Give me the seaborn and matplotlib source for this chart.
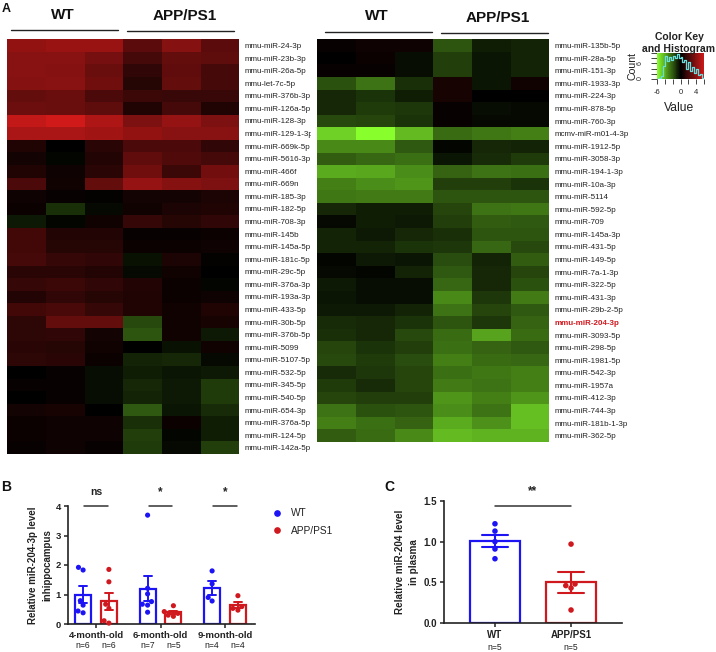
import matplotlib
matplotlib.use('Agg')
import matplotlib.pyplot as plt
from matplotlib.colors import LinearSegmentedColormap
from matplotlib.lines import Line2D
from matplotlib.transforms import Bbox
import numpy as np
import pandas as pd
import seaborn as sns

W, H = 716, 652

left_labels = ['mmu-miR-24-3p', 'mmu-miR-23b-3p', 'mmu-miR-26a-5p', 'mmu-let-7c-5p', 'mmu-miR-376b-3p',
               'mmu-miR-126a-5p', 'mmu-miR-128-3p', 'mmu-miR-129-1-3p', 'mmu-miR-669k-5p', 'mmu-miR-5616-3p',
               'mmu-miR-466f', 'mmu-miR-669n', 'mmu-miR-185-3p', 'mmu-miR-182-5p', 'mmu-miR-708-3p',
               'mmu-miR-145b', 'mmu-miR-145a-5p', 'mmu-miR-181c-5p', 'mmu-miR-29c-5p', 'mmu-miR-376a-3p',
               'mmu-miR-193a-3p', 'mmu-miR-433-5p', 'mmu-miR-30b-5p', 'mmu-miR-376b-5p', 'mmu-miR-5099',
               'mmu-miR-5107-5p', 'mmu-miR-532-5p', 'mmu-miR-345-5p', 'mmu-miR-540-5p', 'mmu-miR-654-3p',
               'mmu-miR-376a-5p', 'mmu-miR-124-5p', 'mmu-miR-142a-5p']
left_values = [
    [4.2, 4.4, 4.4, 2.6, 3.8, 2.6], [3.9, 3.9, 3.4, 2.0, 2.9, 2.7], [3.9, 3.8, 3.0, 1.4, 2.8, 2.0],
    [3.8, 3.9, 3.2, 1.1, 2.9, 2.0], [2.9, 3.0, 2.2, 1.7, 1.6, 1.6], [3.1, 3.0, 2.7, 0.9, 2.0, 0.9],
    [5.6, 6.0, 5.0, 3.6, 4.3, 3.6], [4.9, 4.9, 4.6, 4.2, 3.9, 3.9], [0.9, 0.0, 1.2, 2.2, 2.2, 1.4],
    [0.6, -0.1, 1.0, 2.8, 2.3, 2.0], [0.9, 0.4, 1.2, 3.2, 1.7, 3.3], [2.2, 0.5, 2.9, 4.3, 3.8, 3.6],
    [0.4, 0.2, 0.1, 0.6, 0.6, 0.8], [0.3, -1.1, -0.2, 0.5, 0.8, 0.9], [-0.6, -0.1, 0.5, 1.5, 1.1, 1.4],
    [1.9, 1.0, 1.0, 0.2, 0.2, 0.3], [1.9, 1.1, 1.1, 0.3, 0.3, 0.4], [2.0, 1.5, 1.4, -0.4, 0.8, 0.1],
    [1.2, 1.2, 1.0, -0.2, 0.5, 0.0], [1.5, 1.7, 1.4, 1.0, 0.3, -0.1], [1.0, 1.4, 1.1, 0.9, 0.3, 0.4],
    [1.9, 2.1, 1.5, 0.9, 0.5, 0.9], [1.3, 2.9, 2.9, -1.7, 0.5, 0.7], [1.3, 1.4, 0.6, -2.0, 0.5, -0.6],
    [1.2, 1.1, 0.5, 0.0, -0.4, 0.5], [1.3, 1.2, 0.3, -0.8, -0.9, -0.2], [0.0, 0.2, -0.3, -0.7, -0.5, -0.6],
    [0.2, 0.2, -0.3, -0.9, -0.6, -1.4], [0.0, 0.2, -0.3, -0.8, -0.6, -1.4], [0.6, 0.7, 0.0, -2.1, -0.5, -1.0],
    [0.3, 0.4, 0.4, -1.1, 0.3, -0.7], [0.3, 0.4, 0.4, -1.5, -0.1, -0.7], [0.2, 0.4, 0.2, -1.4, -0.2, -1.5],
]

right_labels = ['mmu-miR-135b-5p', 'mmu-miR-28a-5p', 'mmu-miR-151-3p', 'mmu-miR-1933-3p', 'mmu-miR-224-3p',
                'mmu-miR-878-5p', 'mmu-miR-760-3p', 'mcmv-miR-m01-4-3p', 'mmu-miR-1912-5p', 'mmu-miR-3058-3p',
                'mmu-miR-194-1-3p', 'mmu-miR-10a-3p', 'mmu-miR-5114', 'mmu-miR-592-5p', 'mmu-miR-709',
                'mmu-miR-145a-3p', 'mmu-miR-431-5p', 'mmu-miR-149-5p', 'mmu-miR-7a-1-3p', 'mmu-miR-322-5p',
                'mmu-miR-431-3p', 'mmu-miR-29b-2-5p', 'mmu-miR-204-3p', 'mmu-miR-3093-5p', 'mmu-miR-298-5p',
                'mmu-miR-1981-5p', 'mmu-miR-542-3p', 'mmu-miR-1957a', 'mmu-miR-412-3p', 'mmu-miR-744-3p',
                'mmu-miR-181b-1-3p', 'mmu-miR-362-5p']
right_values = [
    [0.2, 0.4, 0.4, -2.0, -0.7, -0.8], [0.0, 0.3, -0.3, -1.5, -0.5, -0.8], [0.2, 0.2, -0.3, -1.5, -0.5, -0.8],
    [-1.9, -2.7, -1.1, 0.7, -0.5, 0.5], [-0.9, -1.2, -0.7, 0.7, 0.0, 0.0], [-0.9, -1.4, -1.3, 0.2, -0.3, -0.2],
    [-1.7, -1.6, -1.2, 0.2, -0.2, -0.2], [-4.9, -6.0, -4.4, -2.5, -2.8, -3.0], [-3.2, -3.2, -2.1, -0.1, -0.9, -0.8],
    [-2.2, -2.4, -2.6, -0.5, -1.0, -1.4], [-4.0, -3.9, -3.3, -2.3, -2.7, -2.6], [-3.0, -3.3, -3.5, -1.5, -1.5, -1.2],
    [-2.8, -2.9, -2.9, -2.0, -2.0, -2.0], [-0.9, -0.7, -0.7, -1.6, -2.7, -2.8], [-0.2, -0.7, -0.6, -1.5, -2.2, -2.1],
    [-0.8, -0.6, -0.9, -1.1, -2.0, -2.0], [-0.8, -0.8, -1.2, -1.3, -2.4, -1.7], [-0.1, -0.6, -0.5, -1.8, -0.8, -2.2],
    [-0.2, -0.1, -0.8, -2.1, -0.9, -1.6], [-0.6, -0.3, -0.3, -2.4, -0.9, -1.9], [-0.5, -0.3, -0.3, -3.2, -1.3, -2.9],
    [-0.6, -0.6, -0.8, -2.7, -1.6, -2.1], [-1.0, -0.9, -1.2, -2.0, -1.3, -2.3], [-1.1, -0.9, -1.7, -2.5, -3.8, -2.5],
    [-1.6, -1.2, -1.5, -2.6, -2.3, -2.1], [-1.7, -1.4, -1.8, -3.0, -2.5, -2.4], [-1.0, -1.3, -1.6, -2.6, -2.8, -3.0],
    [-1.4, -1.0, -1.6, -2.9, -2.7, -3.0], [-1.6, -1.5, -1.5, -3.5, -3.0, -3.5], [-2.7, -1.9, -2.0, -3.3, -2.7, -4.5],
    [-3.0, -2.6, -2.3, -4.0, -3.4, -4.5], [-2.2, -2.5, -3.2, -4.4, -4.2, -4.2],
]

key_bins = [-6, -5.5, -5, -4.5, -4, -3.5, -3, -2.5, -2, -1.5, -1, -0.5, 0, 0.5, 1, 1.5, 2, 2.5, 3, 3.5, 4, 4.5, 5, 5.5, 6]
key_counts = [0, 3, 12, 50, 90, 70, 85, 75, 90, 80, 95, 80, 85, 65, 75, 40, 65, 30, 45, 25, 40, 15, 20, 5, 0]

groups = ['WT', 'APP/PS1']
ages = ['4-month-old', '6-month-old', '9-month-old']
b_wt_4 = [1.92, 1.83, 0.64, 0.79, 0.38, 0.44]
b_app_4 = [1.85, 1.43, 0.67, 0.53, 0.03, 0.11]
b_wt_6 = [3.69, 1.21, 1.02, 0.76, 0.64, 0.67, 0.40]
b_app_6 = [0.62, 0.42, 0.36, 0.30, 0.26]
b_wt_9 = [1.80, 1.36, 0.90, 0.78]
b_app_9 = [0.96, 0.59, 0.53, 0.47]
b_sig = ['ns', '*', '*']
c_wt = [1.22, 1.13, 1.00, 0.91, 0.79]
c_app = [0.97, 0.48, 0.46, 0.43, 0.16]

BLUE = '#1c14f5'
RED = '#d0181f'


def px_axes(fig, x0, y0, x1, y1):
    # axes from pixel box, y counted from the top like in the picture
    return fig.add_axes([x0 / W, 1 - y1 / H, (x1 - x0) / W, (y1 - y0) / H])


def fig_text(fig, x, y, s, **kwargs):
    kwargs.setdefault('ha', 'center')
    kwargs.setdefault('va', 'center')
    return fig.text(x / W, 1 - y / H, s, **kwargs)


def fig_line(fig, x0, x1, y):
    fig.add_artist(Line2D([x0 / W, x1 / W], [1 - y / H, 1 - y / H], color='#222222', lw=1.0))


def draw_heatmap(fig, box, values, labels, cmap):
    ax = px_axes(fig, *box)
    sns.heatmap(np.array(values), ax=ax, cmap=cmap, vmin=-6, vmax=6, cbar=False,
                xticklabels=False, yticklabels=labels)
    ax.yaxis.tick_right()
    ax.tick_params(axis='y', length=0, pad=4, labelsize=5.8, labelcolor='#222222', labelrotation=0)
    return ax


def draw_key(fig, cmap):
    ax = px_axes(fig, 657, 53, 704, 79)
    ramp = np.linspace(-6, 6, 100)
    ax.pcolormesh(ramp, [0, 100], np.vstack([ramp[:-1]]), cmap=cmap, vmin=-6, vmax=6)
    sns.lineplot(x=key_bins, y=key_counts, ax=ax, color='#66dfdf', lw=0.9, drawstyle='steps-post',
                 estimator=None, errorbar=None)
    ax.set_xlim(-6, 6)
    ax.set_ylim(0, 100)
    ax.set_xticks([-6, -4, -2, 0, 2, 4, 6], ['-6', '', '', '0', '', '4', ''])
    ax.set_yticks([0, 20, 40, 60, 80, 100], ['0', '', '', '6', '', ''])
    ax.tick_params(axis='x', length=3.5, width=0.6, labelsize=5.5, pad=4)
    ax.tick_params(axis='y', length=4.5, width=0.6, labelsize=5, pad=5, labelrotation=90)
    sns.despine(ax=ax, left=True, bottom=True)
    fig_text(fig, 679, 37, 'Color Key', fontsize=7.5, fontweight='bold', color='#222222')
    fig_text(fig, 642, 49, 'and Histogram', fontsize=7.5, fontweight='bold', color='#222222', ha='left')
    fig_text(fig, 633, 66, 'Count', fontsize=7.6, rotation=90, color='#222222')
    fig_text(fig, 679, 108, 'Value', fontsize=8.7, color='#222222')


def style_bars(ax):
    sns.despine(ax=ax)
    for side in ['left', 'bottom']:
        ax.spines[side].set_linewidth(1.2)
        ax.spines[side].set_color('#222222')
    ax.tick_params(length=3, width=1.1, color='#222222', pad=2)
    ax.set_xlabel('')
    for tick in ax.get_xticklabels() + ax.get_yticklabels():
        tick.set_fontweight('bold')
        tick.set_color('#222222')


def note(ax, x, y_px, s, **kwargs):
    # text placed under or above the axis by a pixel offset from its baseline
    ax.annotate(s, xy=(x, 0), xycoords=('data', 'axes fraction'), xytext=(0, y_px * 0.72),
                textcoords='offset points', ha='center', va='center', color='#222222', **kwargs)


def plot_hippocampus(fig):
    rows = []
    for age, wt, app in zip(ages, [b_wt_4, b_wt_6, b_wt_9], [b_app_4, b_app_6, b_app_9]):
        rows += [(age, 'WT', v) for v in wt]
        rows += [(age, 'APP/PS1', v) for v in app]
    df = pd.DataFrame(rows, columns=['age', 'group', 'level'])

    ax = px_axes(fig, 68, 506, 255, 624)
    palette = {'WT': BLUE, 'APP/PS1': RED}
    sns.barplot(data=df, x='age', y='level', hue='group', order=ages, hue_order=groups, palette=palette,
                fill=False, width=0.8, gap=0.375, errorbar='se', capsize=0.25, linewidth=1.6,
                err_kws={'linewidth': 1.4}, legend=False, ax=ax)
    sns.swarmplot(data=df, x='age', y='level', hue='group', order=ages, hue_order=groups, palette=palette,
                  dodge=True, size=3.7, legend=False, clip_on=False, zorder=5, ax=ax)
    ax.set_xlim(-0.434, 2.465)
    ax.set_ylim(0, 4)
    ax.set_yticks([0, 1, 2, 3, 4])
    ax.tick_params(labelsize=6.8)
    style_bars(ax)
    ax.set_ylabel('')
    fig_text(fig, 40, 565, 'Relative miR-204-3p level\ninhippocampus', rotation=90, fontsize=7,
             fontweight='bold', color='#222222', linespacing=1.5)

    for i, age in enumerate(ages):
        ax.plot([i - 0.18, i + 0.18], [4, 4], color='#333333', lw=1.1, clip_on=False)
        note(ax, i, 132, b_sig[i], fontsize=7.5 if b_sig[i] == 'ns' else 8.5, fontweight='bold')
        n_wt = len(df[(df.age == age) & (df.group == 'WT')])
        n_app = len(df[(df.age == age) & (df.group == 'APP/PS1')])
        note(ax, i - 0.2, -22, f'n={n_wt}', fontsize=6.2)
        note(ax, i + 0.2, -22, f'n={n_app}', fontsize=6.2)

    handles = [Line2D([], [], ls='', marker='o', ms=3.8, color=palette[g]) for g in groups]
    fig.legend(handles, groups, loc='center left', bbox_to_anchor=(262 / W, 1 - 522 / H), frameon=False,
               fontsize=7.3, labelcolor='#222222', labelspacing=0.75, handletextpad=0.35, borderpad=0)


def plot_plasma(fig):
    df = pd.DataFrame({'group': ['WT'] * len(c_wt) + ['APP/PS1'] * len(c_app), 'level': c_wt + c_app})
    palette = {'WT': BLUE, 'APP/PS1': RED}

    ax = px_axes(fig, 444, 501, 622, 623)
    sns.barplot(data=df, x='group', y='level', hue='group', order=groups, hue_order=groups, palette=palette,
                fill=False, width=0.65, errorbar='se', capsize=0.33, linewidth=1.6, dodge=False,
                err_kws={'linewidth': 1.5}, legend=False, ax=ax)
    sns.swarmplot(data=df, x='group', y='level', hue='group', order=groups, hue_order=groups, palette=palette,
                  dodge=False, size=4, legend=False, clip_on=False, zorder=5, ax=ax)
    ax.set_xlim(-0.67, 1.67)
    ax.set_ylim(0, 1.5)
    ax.set_yticks([0, 0.5, 1.0, 1.5], ['0.0', '0.5', '1.0', '1.5'])
    ax.tick_params(labelsize=7)
    style_bars(ax)
    ax.set_ylabel('')
    fig_text(fig, 407, 562, 'Relative miR-204 level\nin plasma', rotation=90, fontsize=7.1,
             fontweight='bold', color='#222222', linespacing=1.4)

    ax.plot([0, 1], [1.44, 1.44], color='#333333', lw=1.1, clip_on=False)
    note(ax, 0.5, 132, '**', fontsize=8.5, fontweight='bold')
    for i, vals in enumerate([c_wt, c_app]):
        note(ax, i, -25, f'n={len(vals)}', fontsize=6.2)


def main():
    sns.set_theme(style='ticks')
    plt.rcParams['font.family'] = ['Liberation Sans', 'DejaVu Sans']

    cmap = LinearSegmentedColormap.from_list('key', ['#88ff2d', '#000000', '#d01a1a'])
    fig = plt.figure(figsize=(W / 100, H / 100), dpi=100)

    ax_left = draw_heatmap(fig, (7.3, 39.3, 239.3, 454), left_values, left_labels, cmap)
    # labels of the left map run under the right map, except the last one
    for label in ax_left.get_yticklabels()[:-1]:
        label.set_clip_box(Bbox([[0, 0], [311, H]]))
        label.set_clip_on(True)

    ax_right = draw_heatmap(fig, (317.3, 39.3, 549.3, 442), right_values, right_labels, cmap)
    for label in ax_right.get_yticklabels():
        if label.get_text() == 'mmu-miR-204-3p':
            label.set_color('#d0181f')
            label.set_fontweight('bold')

    for x, y, name in [(62.5, 15, 'WT'), (184.5, 16, 'APP/PS1'), (376.5, 16, 'WT'), (498, 17.5, 'APP/PS1')]:
        fig_text(fig, x, y, name, fontsize=11, fontweight='bold', color='#111111')
    fig_line(fig, 11, 118, 30)
    fig_line(fig, 127, 234, 31)
    fig_line(fig, 325, 432, 32)
    fig_line(fig, 441, 548, 33)

    draw_key(fig, cmap)
    plot_hippocampus(fig)
    plot_plasma(fig)

    fig_text(fig, 2, 9, 'A', fontsize=9, fontweight='bold', ha='left', color='#111111')
    fig_text(fig, 1, 487, 'B', fontsize=10, fontweight='bold', ha='left', color='#111111')
    fig_text(fig, 384, 487, 'C', fontsize=10, fontweight='bold', ha='left', color='#111111')

    fig.savefig('out.png', dpi=100)


if __name__ == "__main__":
    main()
